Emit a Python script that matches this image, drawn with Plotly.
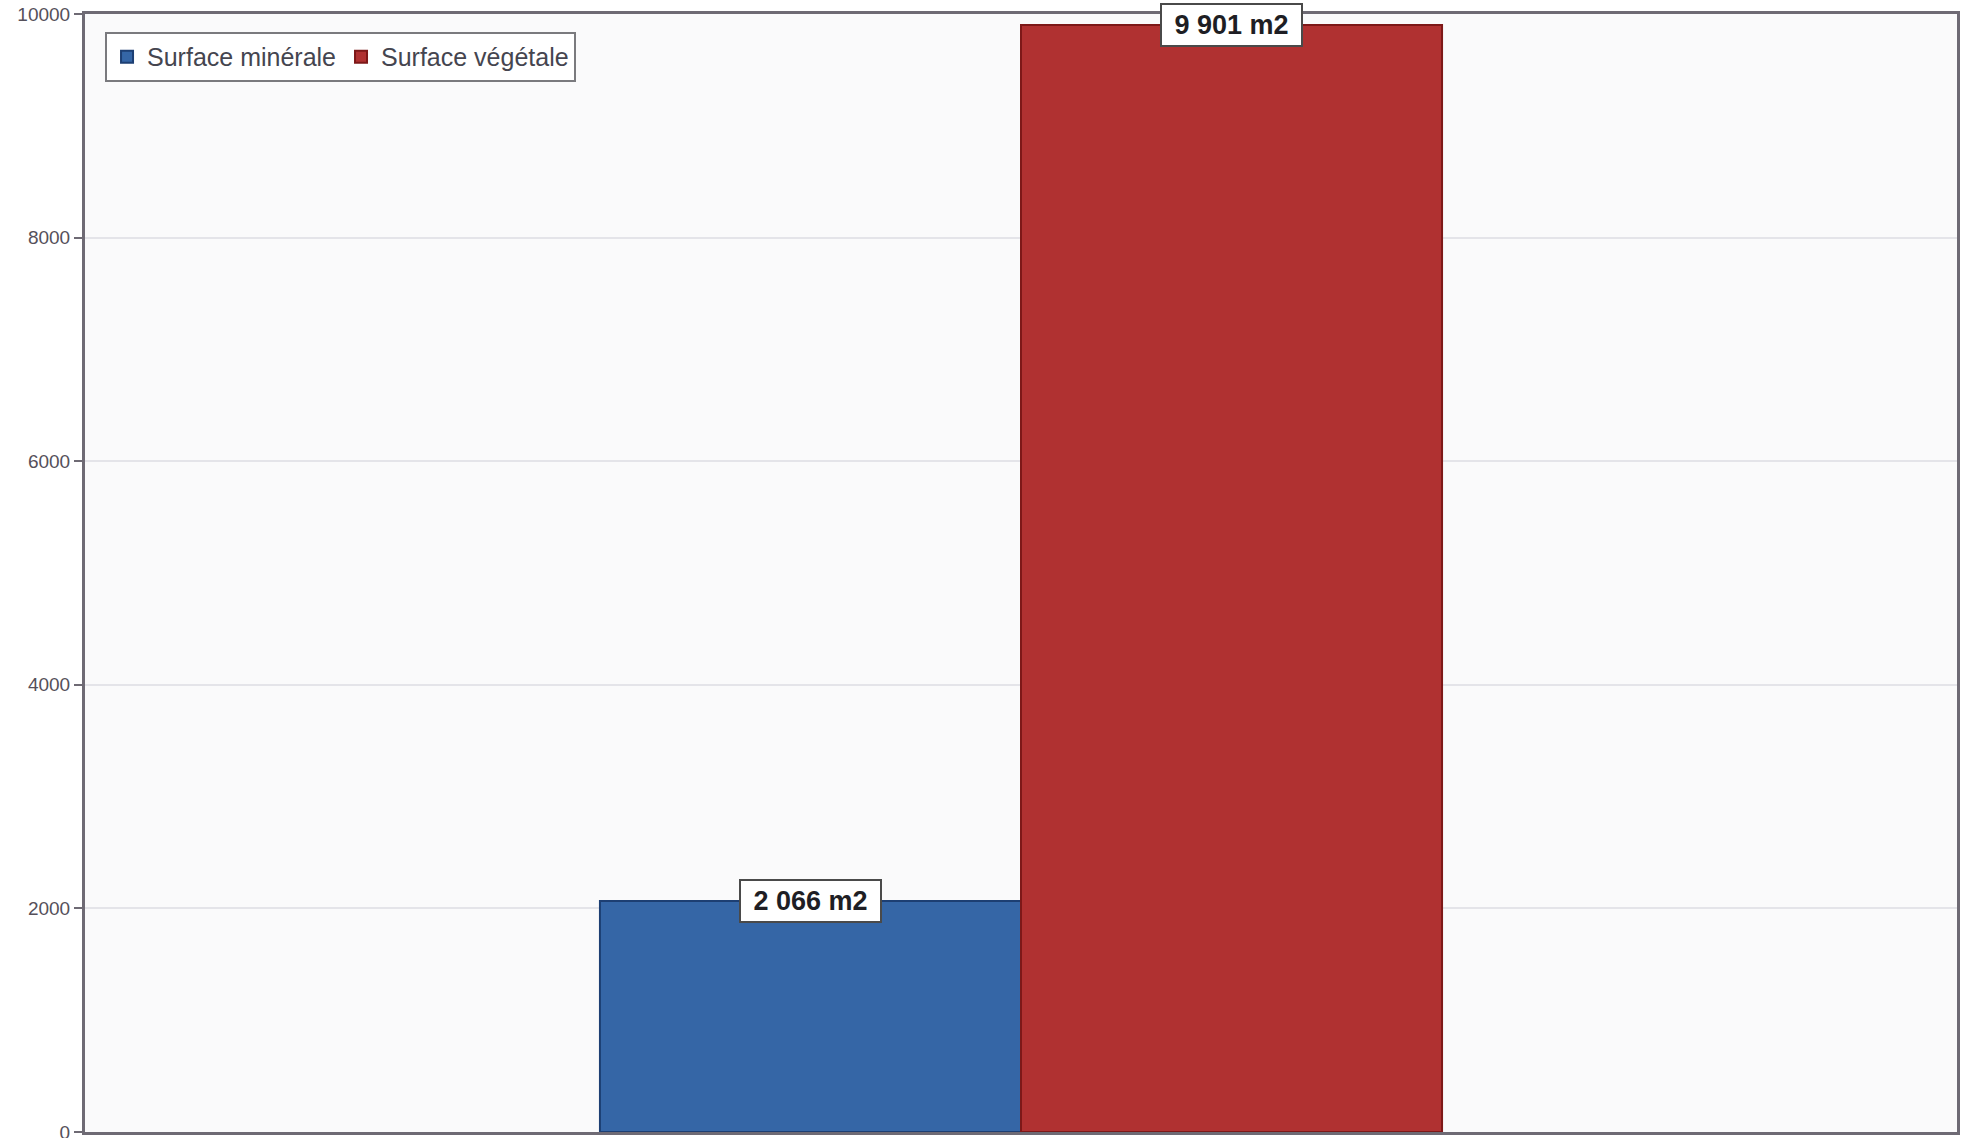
import plotly.graph_objects as go

categories = ["Surface minérale", "Surface végétale"]
values = [2066, 9901]
labels = ["2 066 m2", "9 901 m2"]
fill_colors = ["#3566a6", "#b03131"]
line_colors = ["#1d3f73", "#7d1818"]
y_ticks = [0, 2000, 4000, 6000, 8000, 10000]

fig = go.Figure()
for cat, val, fc, lc in zip(categories, values, fill_colors, line_colors):
    fig.add_trace(go.Bar(
        x=[cat], y=[val], name=cat, width=1,
        marker=dict(color=fc, line=dict(color=lc, width=2)),
    ))

for cat, val, lab in zip(categories, values, labels):
    fig.add_annotation(
        x=cat, y=val, xref="x", yref="y", text="&nbsp;<b>%s</b>&nbsp;" % lab,
        showarrow=False, yanchor="middle", xanchor="center",
        font=dict(family="Liberation Sans, Arial, sans-serif", size=27, color="#1e1e24"),
        bgcolor="#ffffff", bordercolor="#4a4a4a", borderwidth=2, borderpad=5,
    )

fig.update_layout(
    width=1968, height=1138,
    margin=dict(l=85, r=11, t=14, b=6, autoexpand=False),
    paper_bgcolor="#ffffff",
    plot_bgcolor="#fafafb",
    barmode="overlay",
    showlegend=True,
    legend=dict(
        orientation="h", x=0.0107, y=0.984, xanchor="left", yanchor="top",
        bgcolor="#ffffff", bordercolor="#7a7a7e", borderwidth=2,
        font=dict(family="Liberation Sans, Arial, sans-serif", size=25, color="#45454f"),
        itemwidth=30, tracegroupgap=0,
    ),
    xaxis=dict(
        type="category", categoryorder="array", categoryarray=categories,
        range=[-1.723, 2.723], showticklabels=False, ticks="",
        showgrid=False, showline=True, linecolor="#6e6a74", linewidth=3,
        mirror=True, zeroline=False, automargin=False,
    ),
    yaxis=dict(
        range=[0, 10000], tickvals=y_ticks, ticktext=[str(v) for v in y_ticks],
        ticks="outside", ticklen=8, tickcolor="#6e6a74", tickwidth=2,
        tickfont=dict(family="Liberation Sans, Arial, sans-serif", size=19, color="#55505a"),
        ticklabeloverflow="allow", automargin=False,
        showgrid=True, gridcolor="#e4e4e9", gridwidth=2,
        showline=True, linecolor="#6e6a74", linewidth=3, mirror=True,
        zeroline=False,
    ),
)

fig.write_html(
    "out.html",
    config={"displayModeBar": False},
    post_script="document.body.style.margin='0';document.body.style.overflow='hidden';",
)
